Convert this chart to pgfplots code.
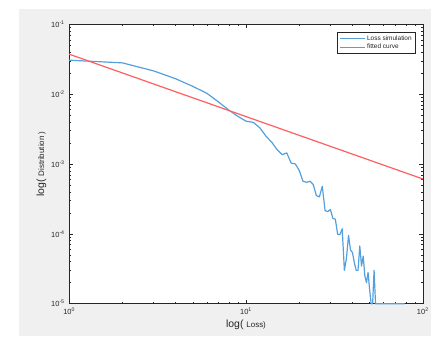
\documentclass[border=0pt]{standalone}
\usepackage{fontspec}
\setmainfont{Liberation Sans}
\usepackage{pgfplots}
\pgfplotsset{compat=1.18}
\definecolor{bggray}{RGB}{240,240,240}
\definecolor{axgray}{RGB}{38,38,38}
\definecolor{mblue}{RGB}{85,160,220}
\definecolor{mred}{RGB}{255,95,95}
\begin{document}
\begin{tikzpicture}
\fill[white] (0,0) rectangle (432bp,338bp);
\fill[bggray] (19bp,1bp) rectangle (432bp,329bp);
\begin{axis}[
  at={(69.3bp,33.7bp)}, anchor=south west,
  scale only axis, width=354.4bp, height=280bp,
  xmode=log, ymode=log,
  xmin=1, xmax=100, ymin=1e-5, ymax=1e-1,
  clip=false,
  axis background/.style={fill=white},
  axis line style={axgray, line width=0.6pt},
  tick align=inside,
  major tick length=3.5bp, minor tick length=2bp,
  every tick/.style={axgray, line width=0.4pt},
  xtick={1,10,100},
  xticklabels={10\textsuperscript{0},10\textsuperscript{1},10\textsuperscript{2}},
  ytick={1e-5,1e-4,1e-3,1e-2,1e-1},
  yticklabels={10\textsuperscript{-5},10\textsuperscript{-4},10\textsuperscript{-3},10\textsuperscript{-2},10\textsuperscript{-1}},
  ticklabel style={font=\fontsize{7.5}{8}\selectfont, text=axgray},
  xticklabel style={yshift=-1bp},
  yticklabel style={xshift=-1bp},
  xlabel={\fontsize{10.5}{12}\selectfont log( {\fontsize{8}{9}\selectfont Loss)}},
  ylabel={\fontsize{10.5}{12}\selectfont log( {\fontsize{8}{9}\selectfont Distribution )}},
  xlabel style={text=axgray, yshift=2bp},
  ylabel style={text=axgray, yshift=-2bp},
  legend style={at={(0.979,0.9736)}, anchor=north east, draw=axgray, line width=0.5pt,
    font=\fontsize{6.5}{7}\selectfont, inner sep=1.5bp, row sep=-1.5bp, text=axgray},
  legend cell align=left,
]
\addplot[draw=mblue, line width=1.2pt, line join=round,
  legend image code/.code={\draw[draw=mblue, line width=1.2pt] (0bp,0bp) -- (25bp,0bp);}] coordinates {
(1,0.0306) (2,0.0280) (3,0.0215) (4,0.0166) (5,0.0129) (6,0.0103) (7,0.0077)
(8,0.0059) (9,0.0048) (10,0.0041) (11,0.00394) (12,0.00327) (13,0.00248)
(14,0.00204) (15,0.0016) (16,0.00136) (17,0.00144) (18,0.00103) (19,0.001)
(20,0.00081) (21,0.000565) (22,0.000547) (23,0.000565) (24,0.000507)
(25,0.000353) (26,0.000338) (27,0.00048) (28,0.000215) (29,0.000208)
(30,0.000223) (31,0.000166) (32,0.000162) (33,0.000098) (34,0.000098)
(35,0.000118) (36,0.00003) (37,0.000045) (38,0.000095) (39,0.0000585)
(40,0.000054) (41,0.0000385) (42,0.00003) (43,0.00003) (44,0.000067)
(45,0.0000345) (46,0.000048) (47,0.000025) (48,0.00002) (49,0.000028)
(50,0.000016) (51,0.00001) (52,0.00001) (53,0.00003) (54,0.00001)
(60,0.00001) (70,0.00001) (79,0.00001)
};
\addlegendentry{Loss simulation}
\addplot[draw=mred, line width=1.2pt,
  legend image code/.code={\draw[draw=mred, line width=1.2pt] (0bp,0bp) -- (25bp,0bp);}] coordinates {(1,0.0373) (100,0.00061)};
\addlegendentry{fitted curve}
\end{axis}
\end{tikzpicture}
\end{document}
